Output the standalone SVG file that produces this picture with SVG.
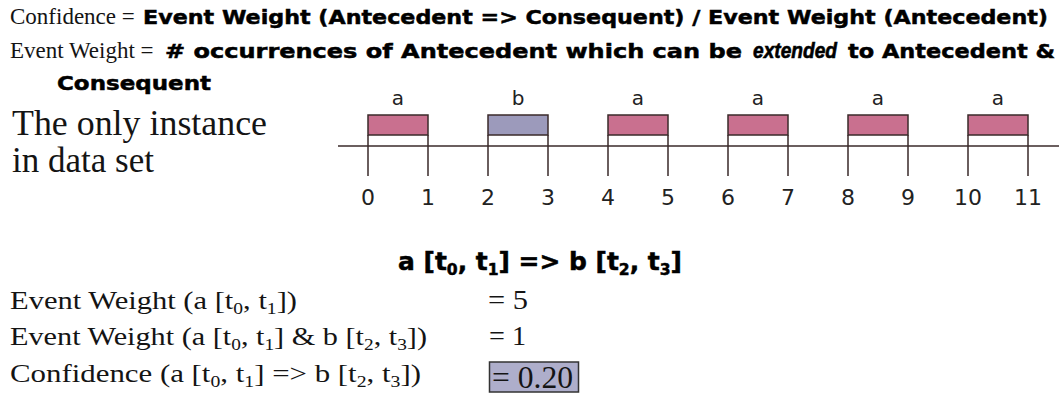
<svg xmlns="http://www.w3.org/2000/svg" width="1063" height="401" viewBox="0 0 1063 401">
<defs>
<style>
.serif{font-family:"Liberation Serif","Times New Roman",serif;fill:#141414}
.bold{font-family:"DejaVu Sans",Verdana,sans-serif;font-weight:bold;fill:#000;stroke:#000;stroke-width:0.5}
.boldi{font-family:"Liberation Sans",Arial,sans-serif;font-weight:bold;font-style:italic;fill:#000;stroke:#000;stroke-width:0.6}
.sans{font-family:"DejaVu Sans",Verdana,sans-serif;fill:#222}
.evA{fill:#c9708f;stroke:#3a2a2a;stroke-width:1.5}
.evB{fill:#9c9abb;stroke:#3a2a2a;stroke-width:1.5}
.ln{stroke:#3a2a2a;stroke-width:1.5;fill:none}
.lbl{font-size:20px;text-anchor:middle}
.num{font-size:22px;text-anchor:middle}
.res{fill:#aeaecb;stroke:#333;stroke-width:1.5}
</style>
</defs>
<rect width="1063" height="401" fill="#fff"/>

<g id="definitions">
<text class="serif" x="10" y="24" font-size="23">Confidence =</text>
<text class="bold" x="143" y="24" font-size="20" textLength="905" lengthAdjust="spacingAndGlyphs">Event Weight (Antecedent =&gt; Consequent) / Event Weight (Antecedent)</text>
<text class="serif" x="10" y="58" font-size="23">Event Weight =</text>
<text class="bold" x="165" y="58" font-size="20" textLength="577" lengthAdjust="spacingAndGlyphs"># occurrences of Antecedent which can be</text>
<text class="boldi" x="753" y="58" font-size="21.5" textLength="84" lengthAdjust="spacingAndGlyphs">extended</text>
<text class="bold" x="848" y="58" font-size="20" textLength="207" lengthAdjust="spacingAndGlyphs">to Antecedent &amp;</text>
<text class="bold" x="57" y="90" font-size="20" textLength="154" lengthAdjust="spacingAndGlyphs">Consequent</text>
</g>

<g id="caption">
<text class="serif" x="12" y="135" font-size="35" textLength="255" lengthAdjust="spacingAndGlyphs">The only instance</text>
<text class="serif" x="12" y="172" font-size="35">in data set</text>
</g>

<g id="connectors">
<line class="ln" x1="338" y1="146" x2="1059" y2="146"/>
<path class="ln" d="M368 135V176M428 135V176M488 135V176M548 135V176M608 135V176M668 135V176M728 135V176M788 135V176M848 135V176M908 135V176M968 135V176M1028 135V176"/>
</g>

<g id="event-a-0-1"><rect class="evA" x="368" y="115" width="60" height="20"/><text class="sans lbl" x="398" y="105">a</text></g>
<g id="event-b-2-3"><rect class="evB" x="488" y="115" width="60" height="20"/><text class="sans lbl" x="518" y="105">b</text></g>
<g id="event-a-4-5"><rect class="evA" x="608" y="115" width="60" height="20"/><text class="sans lbl" x="638" y="105">a</text></g>
<g id="event-a-6-7"><rect class="evA" x="728" y="115" width="60" height="20"/><text class="sans lbl" x="758" y="105">a</text></g>
<g id="event-a-8-9"><rect class="evA" x="848" y="115" width="60" height="20"/><text class="sans lbl" x="878" y="105">a</text></g>
<g id="event-a-10-11"><rect class="evA" x="968" y="115" width="60" height="20"/><text class="sans lbl" x="998" y="105">a</text></g>

<g id="axis-labels">
<text class="sans num" x="368" y="205">0</text>
<text class="sans num" x="428" y="205">1</text>
<text class="sans num" x="488" y="205">2</text>
<text class="sans num" x="548" y="205">3</text>
<text class="sans num" x="608" y="205">4</text>
<text class="sans num" x="668" y="205">5</text>
<text class="sans num" x="728" y="205">6</text>
<text class="sans num" x="788" y="205">7</text>
<text class="sans num" x="848" y="205">8</text>
<text class="sans num" x="908" y="205">9</text>
<text class="sans num" x="968" y="205">10</text>
<text class="sans num" x="1028" y="205">11</text>
</g>

<g id="rule">
<text class="bold" x="398" y="270" font-size="24" textLength="284" lengthAdjust="spacingAndGlyphs">a [t<tspan font-size="15" dy="5">0</tspan><tspan dy="-5">, t</tspan><tspan font-size="15" dy="5">1</tspan><tspan dy="-5">] =&gt; b [t</tspan><tspan font-size="15" dy="5">2</tspan><tspan dy="-5">, t</tspan><tspan font-size="15" dy="5">3</tspan><tspan dy="-5">]</tspan></text>
</g>

<g id="results">
<text class="serif" x="10" y="309" font-size="25" textLength="287" lengthAdjust="spacingAndGlyphs">Event Weight (a [t<tspan font-size="16" dy="5">0</tspan><tspan dy="-5">, t</tspan><tspan font-size="16" dy="5">1</tspan><tspan dy="-5">])</tspan></text>
<text class="serif" x="10" y="345" font-size="25" textLength="417" lengthAdjust="spacingAndGlyphs">Event Weight (a [t<tspan font-size="16" dy="5">0</tspan><tspan dy="-5">, t</tspan><tspan font-size="16" dy="5">1</tspan><tspan dy="-5">] &amp; b [t</tspan><tspan font-size="16" dy="5">2</tspan><tspan dy="-5">, t</tspan><tspan font-size="16" dy="5">3</tspan><tspan dy="-5">])</tspan></text>
<text class="serif" x="10" y="382" font-size="25" textLength="411" lengthAdjust="spacingAndGlyphs">Confidence (a [t<tspan font-size="16" dy="5">0</tspan><tspan dy="-5">, t</tspan><tspan font-size="16" dy="5">1</tspan><tspan dy="-5">] =&gt; b [t</tspan><tspan font-size="16" dy="5">2</tspan><tspan dy="-5">, t</tspan><tspan font-size="16" dy="5">3</tspan><tspan dy="-5">])</tspan></text>
<text class="serif" x="488" y="309" font-size="27" textLength="40" lengthAdjust="spacingAndGlyphs">= 5</text>
<text class="serif" x="489" y="345" font-size="27" textLength="37" lengthAdjust="spacingAndGlyphs">= 1</text>
</g>

<g id="confidence-value">
<rect class="res" x="489.5" y="362" width="89" height="30"/>
<text class="serif" x="492" y="388" font-size="31" textLength="81" lengthAdjust="spacingAndGlyphs">= 0.20</text>
</g>
</svg>
